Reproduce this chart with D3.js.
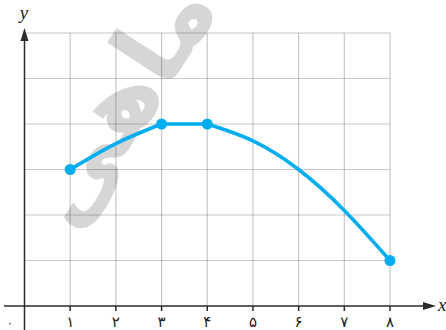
<!DOCTYPE html>
<html>
<head>
<meta charset="utf-8">
<script src="https://cdn.jsdelivr.net/npm/d3@7"></script>
<style>
  body { margin: 0; background: #fff; }
  svg { display: block; }
</style>
</head>
<body>
<svg></svg>
<script>
// Data
const curveX = [1, 2, 3, 4, 5, 6, 7, 8];
const curveY = [3, 3.57, 4, 4, 3.63, 3.0, 2.1, 1];
const dotX = [1, 3, 4, 8];
const dotY = [3, 4, 4, 1];
const xTicks = [1, 2, 3, 4, 5, 6, 7, 8];
const xTickLabels = ["۱", "۲", "۳", "۴", "۵", "۶", "۷", "۸"];
const yGrid = [1, 2, 3, 4, 5, 6];

const width = 446;
const height = 330;

// Scales
const xScale = d3.scaleLinear().domain([0, 8]).range([24.5, 390]);
const yScale = d3.scaleLinear().domain([0, 6]).range([306, 33]);

const svg = d3.select("svg")
  .attr("width", width)
  .attr("height", height);

// Watermark (behind everything)
svg.append("text")
  .attr("transform", "translate(124,106) rotate(-57)")
  .attr("text-anchor", "middle")
  .attr("dominant-baseline", "middle")
  .style("font-family", "DejaVu Sans")
  .style("font-weight", "bold")
  .style("font-size", "100px")
  .style("fill", "#d6d6d6")
  .text("ماهی");

// Grid
const grid = svg.append("g").attr("stroke", "rgba(0,0,0,0.22)").attr("stroke-width", 1.2);
grid.selectAll("line.h")
  .data(yGrid)
  .join("line")
  .attr("class", "h")
  .attr("x1", xScale(0)).attr("x2", xScale(8))
  .attr("y1", d => yScale(d)).attr("y2", d => yScale(d));
grid.selectAll("line.v")
  .data(xTicks)
  .join("line")
  .attr("class", "v")
  .attr("x1", d => xScale(d)).attr("x2", d => xScale(d))
  .attr("y1", yScale(6)).attr("y2", yScale(0));

// Axes with arrows
const axisColor = "#2b2b2b";
svg.append("line")
  .attr("x1", 4).attr("x2", 428)
  .attr("y1", yScale(0)).attr("y2", yScale(0))
  .attr("stroke", axisColor).attr("stroke-width", 1.5);
svg.append("path")
  .attr("d", `M436,${yScale(0)} L423,${yScale(0) - 4} L423,${yScale(0) + 4} Z`)
  .attr("fill", axisColor);

svg.append("line")
  .attr("x1", xScale(0)).attr("x2", xScale(0))
  .attr("y1", 330).attr("y2", 36)
  .attr("stroke", axisColor).attr("stroke-width", 1.5);
svg.append("path")
  .attr("d", `M${xScale(0)},28 L${xScale(0) - 4},41 L${xScale(0) + 4},41 Z`)
  .attr("fill", axisColor);

// Ticks and labels on x axis
svg.append("g")
  .selectAll("line")
  .data(xTicks)
  .join("line")
  .attr("x1", d => xScale(d)).attr("x2", d => xScale(d))
  .attr("y1", yScale(0)).attr("y2", yScale(0) + 5)
  .attr("stroke", axisColor).attr("stroke-width", 1.5);

svg.append("g")
  .selectAll("text")
  .data(xTicks)
  .join("text")
  .attr("x", d => xScale(d))
  .attr("y", 327)
  .attr("text-anchor", "middle")
  .style("font-family", "DejaVu Sans")
  .style("font-size", "15px")
  .style("fill", "#222")
  .text((d, i) => xTickLabels[i]);

svg.append("text")
  .attr("x", 10).attr("y", 327)
  .attr("text-anchor", "middle")
  .style("font-family", "DejaVu Sans")
  .style("font-size", "11px")
  .style("fill", "#222")
  .text("۰");

// Axis titles
svg.append("text")
  .attr("x", 24).attr("y", 19)
  .attr("text-anchor", "middle")
  .style("font-family", "Liberation Serif")
  .style("font-style", "italic")
  .style("font-size", "19px")
  .style("fill", "#222")
  .text("y");
svg.append("text")
  .attr("x", 438).attr("y", 311)
  .style("font-family", "Liberation Serif")
  .style("font-style", "italic")
  .style("font-size", "19px")
  .style("fill", "#222")
  .text("x");

// Curve: rising arc, flat part, falling arc
const pts = curveX.map((x, i) => [x, curveY[i]]);
const segments = [pts.slice(0, 3), pts.slice(2, 4), pts.slice(3)];

const line = d3.line()
  .x(d => xScale(d[0]))
  .y(d => yScale(d[1]))
  .curve(d3.curveNatural);

svg.append("g")
  .selectAll("path")
  .data(segments)
  .join("path")
  .attr("d", line)
  .attr("fill", "none")
  .attr("stroke", "#00aeef")
  .attr("stroke-width", 3.5)
  .attr("stroke-linecap", "round");

svg.append("g")
  .selectAll("circle")
  .data(dotX)
  .join("circle")
  .attr("cx", d => xScale(d))
  .attr("cy", (d, i) => yScale(dotY[i]))
  .attr("r", 5.5)
  .attr("fill", "#00aeef");
</script>
</body>
</html>
